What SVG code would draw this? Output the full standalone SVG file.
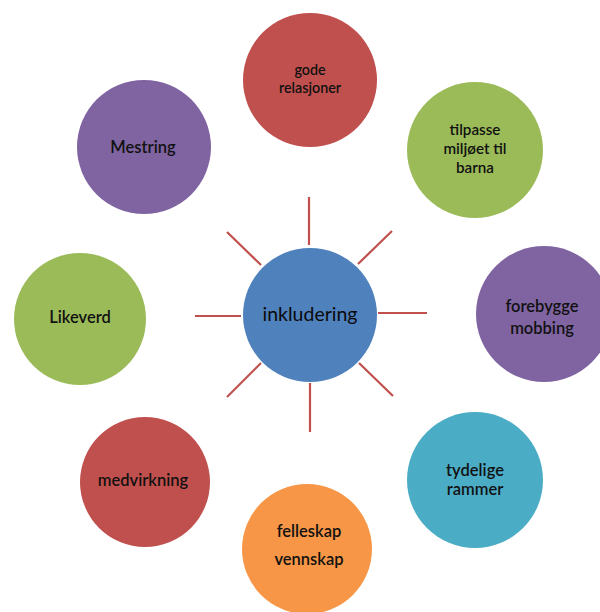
<svg xmlns="http://www.w3.org/2000/svg" width="600" height="612" viewBox="0 0 600 612">
<style>
.t{font-family:Lato,"Open Sans","Liberation Sans",sans-serif;font-size:16.5px;font-weight:600;fill:#111111;text-anchor:middle}
.s{font-size:14.3px}
.m{font-size:15.2px}
.c{font-size:19.5px;font-weight:400;fill:#0a0a0a}
.ray{stroke:#C0504D;stroke-width:2.2;fill:none}
</style>
<rect width="600" height="612" fill="#ffffff"/>
<g id="connectors">
<line class="ray" x1="309" y1="197" x2="309" y2="245"/>
<line class="ray" x1="358" y1="264" x2="392" y2="231"/>
<line class="ray" x1="378" y1="313" x2="427" y2="313"/>
<line class="ray" x1="359" y1="363" x2="393" y2="396"/>
<line class="ray" x1="310" y1="383" x2="310" y2="432"/>
<line class="ray" x1="261" y1="363" x2="227" y2="397"/>
<line class="ray" x1="195" y1="316" x2="241" y2="316"/>
<line class="ray" x1="227" y1="232" x2="261" y2="265"/>
</g>
<g id="inkludering">
<circle cx="310" cy="315" r="67" fill="#4F81BD"/>
<text class="t c" x="310" y="321">inkludering</text>
</g>
<g id="gode-relasjoner">
<circle cx="310" cy="80" r="67" fill="#C0504D"/>
<text class="t s" x="310" y="75">gode</text>
<text class="t s" x="310" y="93">relasjoner</text>
</g>
<g id="tilpasse">
<circle cx="475" cy="150" r="68" fill="#9BBB59"/>
<text class="t m" x="475" y="135">tilpasse</text>
<text class="t m" x="475" y="154">miljøet til</text>
<text class="t m" x="475" y="173">barna</text>
</g>
<g id="forebygge">
<circle cx="544" cy="314" r="68" fill="#8064A2"/>
<text class="t" x="542" y="312">forebygge</text>
<text class="t" x="542" y="334">mobbing</text>
</g>
<g id="tydelige">
<circle cx="475" cy="480" r="68" fill="#4BACC6"/>
<text class="t" x="475" y="476">tydelige</text>
<text class="t" x="475" y="495">rammer</text>
</g>
<g id="felleskap">
<circle cx="307" cy="549" r="65" fill="#F79646"/>
<text class="t" x="309" y="537">felleskap</text>
<text class="t" x="309" y="565">vennskap</text>
</g>
<g id="medvirkning">
<circle cx="145" cy="482" r="65" fill="#C0504D"/>
<text class="t" x="143" y="486">medvirkning</text>
</g>
<g id="likeverd">
<circle cx="80" cy="319" r="66" fill="#9BBB59"/>
<text class="t" x="80" y="323">Likeverd</text>
</g>
<g id="mestring">
<circle cx="144" cy="147" r="67" fill="#8064A2"/>
<text class="t" x="143" y="153">Mestring</text>
</g>
</svg>
